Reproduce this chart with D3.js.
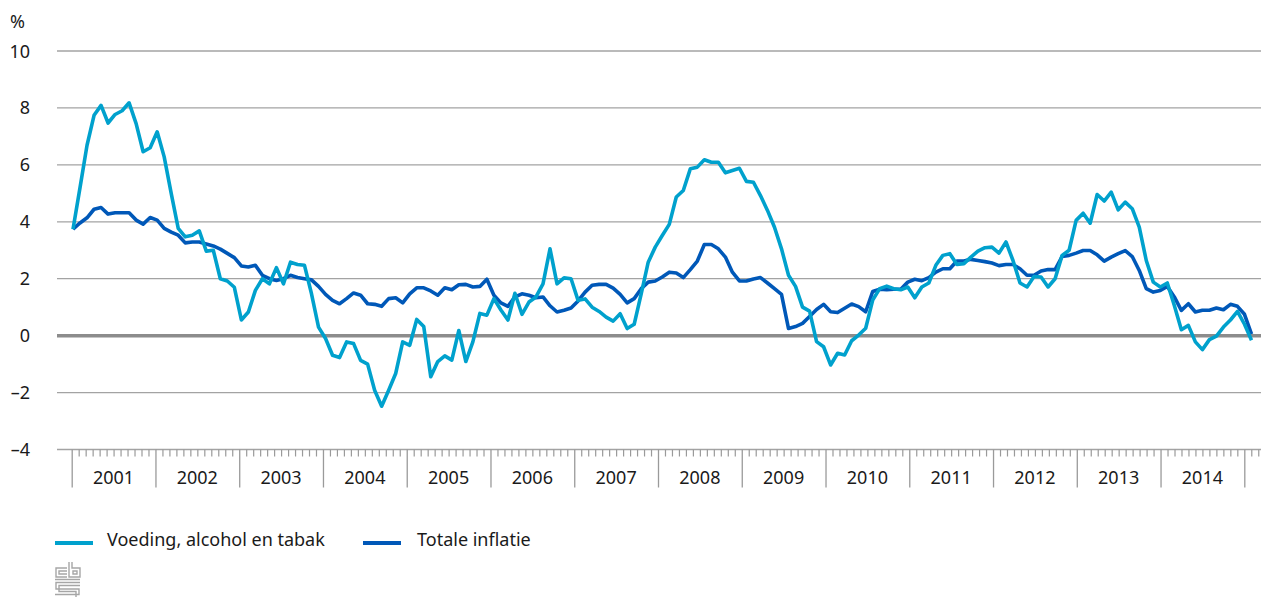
<!DOCTYPE html>
<html>
<head>
<meta charset="utf-8">
<script src="https://cdn.jsdelivr.net/npm/d3@7"></script>
<style>
	body { margin: 0; background: #fff; }
	text { font-family: "Noto Sans", "Open Sans", sans-serif; fill: #1a1a1a; }
</style>
</head>
<body>
<div id="chart"></div>
<script>
/*
*    inflatie: voeding vs totaal, maandcijfers jan 2001 - jan 2015
*/

const jaren = [2001, 2002, 2003, 2004, 2005, 2006, 2007, 2008, 2009, 2010, 2011, 2012, 2013, 2014];
const yTicks = [-4, -2, 0, 2, 4, 6, 8, 10];

const voeding = [
	3.74, 5.2, 6.69, 7.74, 8.09, 7.47, 7.77, 7.9, 8.18, 7.45, 6.46, 6.6,
	7.16, 6.28, 5.0, 3.77, 3.47, 3.53, 3.68, 2.97, 3.0, 2.0, 1.92, 1.7,
	0.55, 0.83, 1.59, 2.0, 1.82, 2.39, 1.82, 2.58, 2.5, 2.47, 1.47, 0.3,
	-0.1, -0.69, -0.77, -0.22, -0.28, -0.87, -1.0, -1.92, -2.48, -1.92, -1.33, -0.22,
	-0.34, 0.57, 0.32, -1.44, -0.91, -0.71, -0.86, 0.18, -0.91, -0.22, 0.78, 0.72,
	1.3, 0.9, 0.55, 1.49, 0.75, 1.18, 1.36, 1.82, 3.05, 1.82, 2.03, 2.0,
	1.24, 1.29, 1.0, 0.85, 0.65, 0.51, 0.77, 0.25, 0.4, 1.47, 2.58, 3.11,
	3.52, 3.91, 4.87, 5.1, 5.86, 5.92, 6.18, 6.09, 6.09, 5.72, 5.8, 5.88,
	5.42, 5.39, 4.92, 4.4, 3.81, 3.05, 2.12, 1.73, 1.0, 0.86, -0.21, -0.39,
	-1.03, -0.62, -0.68, -0.18, 0.02, 0.26, 1.25, 1.65, 1.74, 1.65, 1.61, 1.71,
	1.33, 1.71, 1.85, 2.47, 2.82, 2.88, 2.5, 2.53, 2.76, 2.97, 3.09, 3.11,
	2.9, 3.29, 2.64, 1.85, 1.71, 2.08, 2.06, 1.71, 2.0, 2.82, 3.0, 4.05,
	4.3, 3.95, 4.96, 4.73, 5.04, 4.42, 4.69, 4.46, 3.81, 2.64, 1.88, 1.71,
	1.85, 1.06, 0.21, 0.36, -0.22, -0.49, -0.14, -0.02, 0.3, 0.55, 0.85, 0.4,
	-0.16
];

const totaal = [
	3.74, 3.96, 4.14, 4.44, 4.5, 4.27, 4.32, 4.32, 4.32, 4.06, 3.92, 4.15,
	4.06, 3.77, 3.64, 3.53, 3.26, 3.29, 3.29, 3.22, 3.15, 3.04, 2.89, 2.74,
	2.45, 2.41, 2.47, 2.12, 2.0, 1.94, 2.0, 2.12, 2.04, 2.0, 1.96, 1.73,
	1.45, 1.24, 1.12, 1.3, 1.5, 1.42, 1.12, 1.1, 1.03, 1.3, 1.33, 1.15,
	1.47, 1.68, 1.68, 1.57, 1.42, 1.68, 1.61, 1.79, 1.8, 1.71, 1.73, 1.98,
	1.42, 1.15, 1.03, 1.36, 1.47, 1.42, 1.33, 1.36, 1.05, 0.83, 0.89, 0.97,
	1.22, 1.53, 1.77, 1.8, 1.8, 1.67, 1.45, 1.15, 1.3, 1.65, 1.88, 1.92,
	2.06, 2.23, 2.2, 2.04, 2.32, 2.62, 3.2, 3.2, 3.05, 2.76, 2.23, 1.92,
	1.92, 1.99, 2.04, 1.85, 1.65, 1.45, 0.25, 0.32, 0.43, 0.67, 0.92, 1.1,
	0.84, 0.81, 0.96, 1.11, 1.02, 0.84, 1.55, 1.63, 1.61, 1.63, 1.63, 1.88,
	1.98, 1.93, 2.04, 2.23, 2.35, 2.35, 2.62, 2.62, 2.68, 2.64, 2.6, 2.55,
	2.46, 2.5, 2.5, 2.35, 2.12, 2.12, 2.27, 2.32, 2.32, 2.78, 2.82, 2.9,
	2.99, 2.99, 2.84, 2.62, 2.76, 2.88, 2.99, 2.78, 2.29, 1.65, 1.53, 1.59,
	1.73, 1.36, 0.89, 1.12, 0.83, 0.89, 0.89, 0.97, 0.91, 1.1, 1.03, 0.75,
	0.05
];

const reeksen = ["Voeding, alcohol en tabak", "Totale inflatie"];
const kleuren = ["#00a1cd", "#0058b8"];

lineChart("#chart");

function lineChart(container) {

	const width = 1261;
	const height = 597;

	const gridLeft = 57;
	const gridRight = 1261;

	const svg = d3.select(container)
		.append("svg")
		.attr("width", width)
		.attr("height", height);

	// Schalen
	const y = d3.scaleLinear()
		.domain([-4, 10])
		.range([449.5, 51]);

	// jaar-as (tickmarks per maand)
	const xJaar = d3.scaleLinear()
		.domain([2001, 2015])
		.range([71.7, 1244.3]);

	// datapunten per maand
	const x = d3.scaleLinear()
		.domain([0, voeding.length - 1])
		.range([73, 1251.5]);

	// Gridlijnen
	svg.append("g")
		.selectAll("line")
		.data(yTicks.filter(d => d !== 0))
		.enter()
		.append("line")
		.attr("x1", gridLeft)
		.attr("x2", gridRight)
		.attr("y1", d => y(d))
		.attr("y2", d => y(d))
		.attr("stroke", "#a3a3a3")
		.attr("stroke-width", 1.3);

	// Y labels
	svg.append("g")
		.selectAll("text")
		.data(yTicks)
		.enter()
		.append("text")
		.attr("x", 30)
		.attr("y", d => y(d) + 6.5)
		.attr("text-anchor", "end")
		.style("font-size", "18px")
		.text(d => d < 0 ? "\u2013" + Math.abs(d) : d);

	svg.append("text")
		.attr("x", 10)
		.attr("y", 28)
		.style("font-size", "18px")
		.text("%");

	// X as: maandticks en jaarticks
	const maanden = d3.range(0, 171).map(m => 2001 + m / 12);

	svg.append("g")
		.attr("transform", `translate(0, ${y(-4)})`)
		.call(d3.axisBottom(xJaar)
			.tickValues(maanden.filter((d, i) => i % 12 !== 0))
			.tickSize(7)
			.tickFormat(""))
		.call(g => g.select(".domain").remove())
		.selectAll("line")
		.attr("stroke", "#9a9a9a")
		.attr("stroke-width", 1.2);

	svg.append("g")
		.attr("transform", `translate(0, ${y(-4)})`)
		.call(d3.axisBottom(xJaar)
			.tickValues(d3.range(2001, 2016))
			.tickSize(38)
			.tickFormat(""))
		.call(g => g.select(".domain").remove())
		.selectAll("line")
		.attr("stroke", "#9a9a9a")
		.attr("stroke-width", 1.3);

	svg.append("g")
		.selectAll("text")
		.data(jaren)
		.enter()
		.append("text")
		.attr("x", d => xJaar(d + 0.5))
		.attr("y", 484)
		.attr("text-anchor", "middle")
		.style("font-size", "18px")
		.text(d => d);

	// Nullijn
	svg.append("line")
		.attr("x1", gridLeft)
		.attr("x2", gridRight)
		.attr("y1", y(0))
		.attr("y2", y(0))
		.attr("stroke", "#8c8c8c")
		.attr("stroke-width", 3.5);

	// Lijnen
	const line = d3.line()
		.x((d, i) => x(i))
		.y(d => y(d));

	[totaal, voeding].forEach((reeks, k) => {
		svg.append("path")
			.datum(reeks)
			.attr("fill", "none")
			.attr("stroke", k === 0 ? kleuren[1] : kleuren[0])
			.attr("stroke-width", 3.6)
			.attr("stroke-linejoin", "round")
			.attr("d", line);
	});

	// Legenda
	const legendX = [55, 363];
	const legend = svg.append("g")
		.selectAll("g")
		.data(reeksen)
		.enter()
		.append("g")
		.attr("transform", (d, i) => `translate(${legendX[i]}, 543)`);

	legend.append("line")
		.attr("x1", 0)
		.attr("x2", 38)
		.attr("stroke", (d, i) => kleuren[i])
		.attr("stroke-width", 4);

	legend.append("text")
		.attr("x", (d, i) => i === 0 ? 52 : 54)
		.attr("y", 3)
		.style("font-size", "18px")
		.text(d => d);

	// CBS logo
	const logo = svg.append("g")
		.attr("transform", "translate(55, 562)")
		.attr("fill", "none")
		.attr("stroke", "#a6a6a6")
		.attr("stroke-width", 1.4);

	logo.append("path")
		.attr("d", "M12 6 H1 V15 H12 M12 9 H4 V12 H12 M14 0 V15 H25 V6 H17 V0 M18 9 H22 V12 H18 Z M0 17.5 H25 M25 20.5 H1 V27 H24 V32.5 H0 M25 23.5 H4 V29.5 H21 V35");
}
</script>
</body>
</html>
